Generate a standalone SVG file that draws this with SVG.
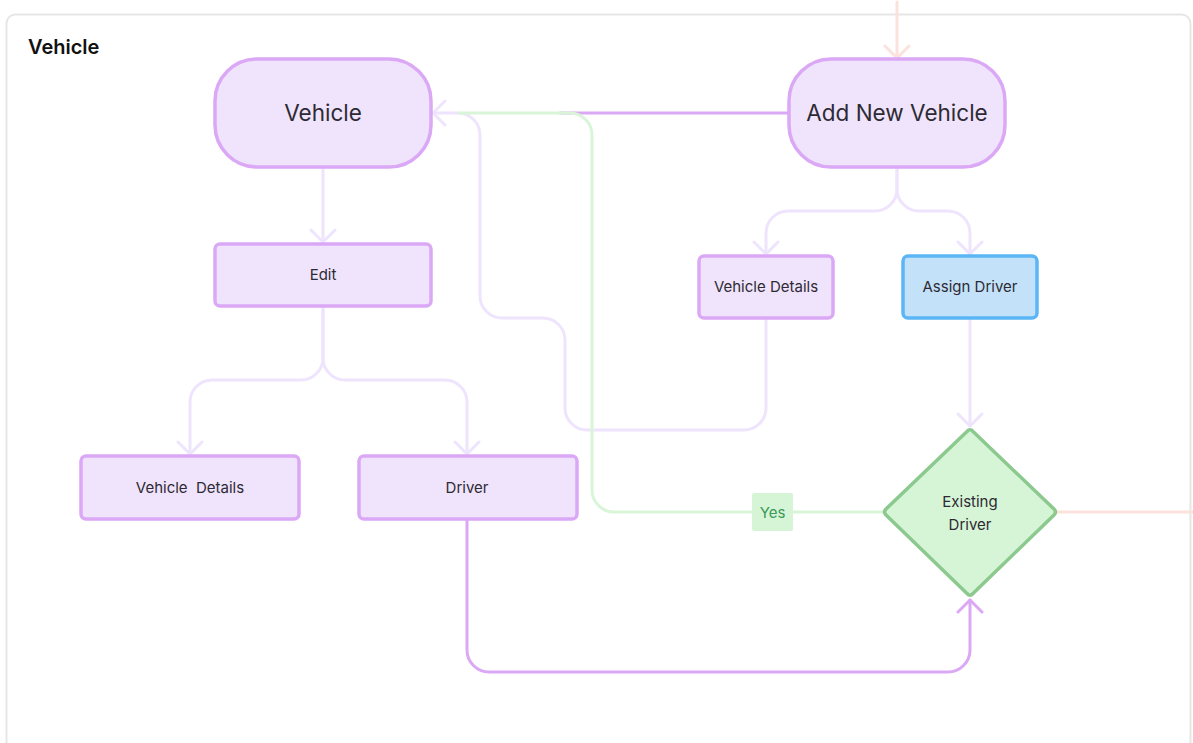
<svg xmlns="http://www.w3.org/2000/svg" width="1193" height="743" viewBox="0 0 1193 743">
  <style>
    text { font-family: Inter, "Noto Sans", "Liberation Sans", sans-serif; fill: #2e2a33; text-anchor: middle; }
    .frame { fill: #ffffff; stroke: #e6e6e6; stroke-width: 2; }
    .title { font-size: 20px; font-weight: 600; fill: #111111; text-anchor: start; }
    .node { fill: #efe4fc; stroke: #dba8f6; stroke-width: 3.5; }
    .blue { fill: #c3e2fa; stroke: #5cb6f6; stroke-width: 3.5; }
    .decision { fill: #d6f5d6; stroke: #8cc98e; stroke-width: 3.5; stroke-linejoin: round; }
    .big { font-size: 22.5px; }
    .small { font-size: 15px; }
    .conn { fill: none; stroke-width: 3; stroke-linecap: round; stroke-linejoin: round; }
    .lav { stroke: #efe4fd; }
    .pur { stroke: #dba8f6; }
    .grn { stroke: #d9f5d7; }
    .pnk { stroke: #fbe2dc; }
    .yes-box { fill: #d6f5d6; }
    .yes { font-size: 15px; fill: #3b9a5a; }
  </style>
  <defs>
    <marker id="ah-lav" markerUnits="userSpaceOnUse" viewBox="-15 -15 17 30" refX="0" refY="0" markerWidth="17" markerHeight="30" orient="auto">
      <path d="M-12,-12 L0,0 L-12,12" fill="none" stroke="#efe4fd" stroke-width="3" stroke-linecap="round" stroke-linejoin="round"/>
    </marker>
    <marker id="ah-pur" markerUnits="userSpaceOnUse" viewBox="-15 -15 17 30" refX="0" refY="0" markerWidth="17" markerHeight="30" orient="auto">
      <path d="M-12,-12 L0,0 L-12,12" fill="none" stroke="#dba8f6" stroke-width="3" stroke-linecap="round" stroke-linejoin="round"/>
    </marker>
    <marker id="ah-pnk" markerUnits="userSpaceOnUse" viewBox="-15 -15 17 30" refX="0" refY="0" markerWidth="17" markerHeight="30" orient="auto">
      <path d="M-12,-12 L0,0 L-12,12" fill="none" stroke="#fbe2dc" stroke-width="3" stroke-linecap="round" stroke-linejoin="round"/>
    </marker>
  </defs>

  <!-- section frame -->
  <rect class="frame" x="6.5" y="14.5" width="1184" height="740" rx="9"/>
  <text class="title" x="28" y="54">Vehicle</text>

  <g id="connectors">
    <!-- incoming from above -->
    <path class="conn pnk" d="M897,2 V58" marker-end="url(#ah-pnk)"/>
    <!-- Add New Vehicle back to Vehicle -->
    <path class="conn pur" d="M789,113 H560"/>
    <!-- Vehicle -> Edit -->
    <path class="conn lav" d="M323,167 V242" marker-end="url(#ah-lav)"/>
    <!-- Edit branches -->
    <path class="conn lav" d="M323,306 V358 A22,22 0 0 1 301,380 H212 A22,22 0 0 0 190,402 V454" marker-end="url(#ah-lav)"/>
    <path class="conn lav" d="M323,306 V358 A22,22 0 0 0 345,380 H445 A22,22 0 0 1 467,402 V454" marker-end="url(#ah-lav)"/>
    <!-- Add New Vehicle branches -->
    <path class="conn lav" d="M897,167 V189 A22,22 0 0 1 875,211 H788 A22,22 0 0 0 766,233 V254" marker-end="url(#ah-lav)"/>
    <path class="conn lav" d="M897,167 V189 A22,22 0 0 0 919,211 H948 A22,22 0 0 1 970,233 V254" marker-end="url(#ah-lav)"/>
    <!-- Vehicle Details back to Vehicle -->
    <path class="conn lav" d="M766,318 V408 A22,22 0 0 1 744,430 H587 A22,22 0 0 1 565,408 V340 A22,22 0 0 0 543,318 H502 A22,22 0 0 1 480,296 V135 A22,22 0 0 0 458,113 H433" marker-end="url(#ah-lav)"/>
    <!-- Assign Driver -> Existing Driver -->
    <path class="conn lav" d="M970,318 V426" marker-end="url(#ah-lav)"/>
    <!-- Yes: Existing Driver -> Vehicle -->
    <path class="conn grn" d="M883,512 H614 A22,22 0 0 1 592,490 V135 A22,22 0 0 0 570,113 H459"/>
    <!-- Driver -> Existing Driver -->
    <path class="conn pur" d="M467,519 V650 A22,22 0 0 0 489,672 H948 A22,22 0 0 0 970,650 V600" marker-end="url(#ah-pur)"/>
    <!-- outgoing to the right -->
    <path class="conn pnk" d="M1058,512 H1193"/>
    <!-- Yes label -->
    <rect class="yes-box" x="752" y="493" width="41" height="38" rx="2"/>
    <text class="yes" x="772.5" y="518">Yes</text>
  </g>

  <g id="node-vehicle">
    <rect class="node" x="215" y="59" width="216" height="108" rx="42"/>
    <text class="big" x="323" y="121">Vehicle</text>
  </g>

  <g id="node-add-new-vehicle">
    <rect class="node" x="789" y="59" width="216" height="108" rx="42"/>
    <text class="big" x="897" y="121">Add New Vehicle</text>
  </g>

  <g id="node-edit">
    <rect class="node" x="215" y="244" width="216" height="62" rx="5"/>
    <text class="small" x="323" y="280">Edit</text>
  </g>

  <g id="node-vehicle-details-new">
    <rect class="node" x="699" y="256" width="134" height="62" rx="5"/>
    <text class="small" x="766" y="292">Vehicle Details</text>
  </g>

  <g id="node-assign-driver">
    <rect class="blue" x="903" y="256" width="134" height="62" rx="5"/>
    <text class="small" x="970" y="292">Assign Driver</text>
  </g>

  <g id="node-vehicle-details-edit">
    <rect class="node" x="81" y="456" width="218" height="63" rx="5"/>
    <text class="small" x="190" y="493" xml:space="preserve">Vehicle  Details</text>
  </g>

  <g id="node-driver">
    <rect class="node" x="359" y="456" width="218" height="63" rx="5"/>
    <text class="small" x="467" y="493">Driver</text>
  </g>

  <g id="node-existing-driver">
    <path class="decision" d="M967,431.5 Q970,428 973,431.5 L1054,509 Q1057,512 1054,515 L973,593.5 Q970,597 967,593.5 L886,515 Q883,512 886,509 Z"/>
    <text class="small" x="970" y="507">Existing</text>
    <text class="small" x="970" y="530">Driver</text>
  </g>
</svg>
